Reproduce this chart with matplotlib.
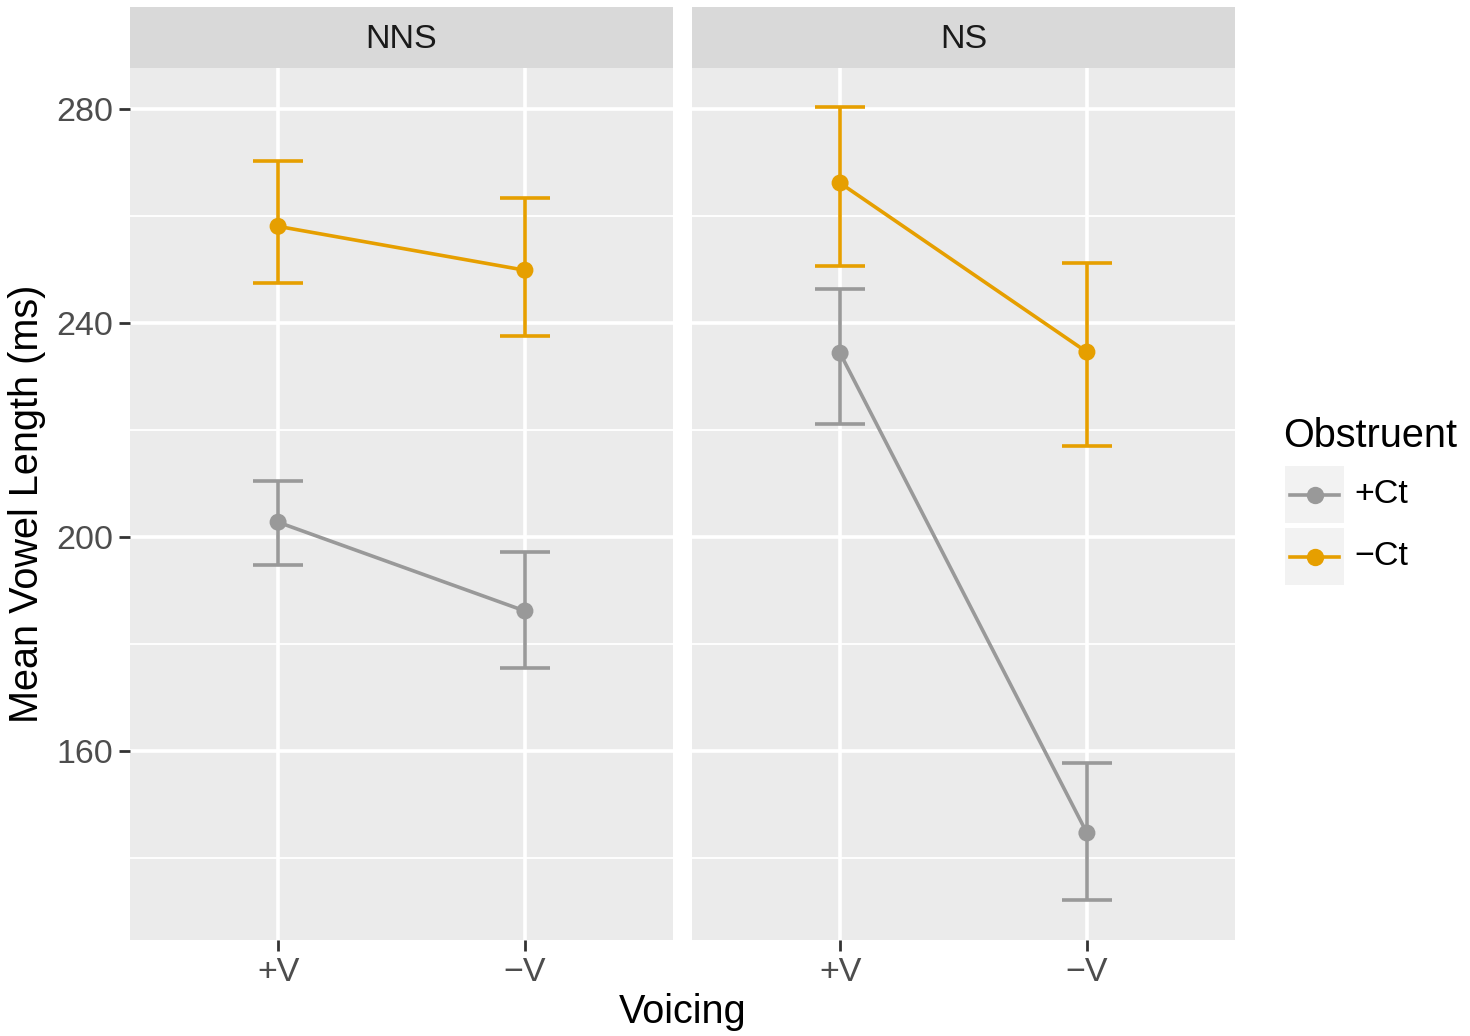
import matplotlib
matplotlib.use("Agg")
import matplotlib.pyplot as plt
from matplotlib.patches import Rectangle
from matplotlib.lines import Line2D
import numpy as np

plt.rcParams['font.family'] = ['Liberation Sans', 'DejaVu Sans']

# Data
panels = ["NNS", "NS"]
voicing = ["+V", "\u2212V"]
groups = ["+Ct", "\u2212Ct"]
colors = {"+Ct": "#999999", "\u2212Ct": "#E69F00"}

means = {
    ("NNS", "+Ct"): [202.8, 186.2],
    ("NNS", "\u2212Ct"): [258.1, 249.9],
    ("NS", "+Ct"): [234.4, 144.7],
    ("NS", "\u2212Ct"): [266.2, 234.6],
}
upper = {
    ("NNS", "+Ct"): [210.5, 197.2],
    ("NNS", "\u2212Ct"): [270.3, 263.4],
    ("NS", "+Ct"): [246.4, 157.8],
    ("NS", "\u2212Ct"): [280.4, 251.2],
}
lower = {
    ("NNS", "+Ct"): [194.8, 175.5],
    ("NNS", "\u2212Ct"): [247.5, 237.6],
    ("NS", "+Ct"): [221.1, 132.1],
    ("NS", "\u2212Ct"): [250.7, 217.0],
}
yticks = [160, 200, 240, 280]
yminor = [140, 180, 220, 260]

W, H = 1470, 1036
fig = plt.figure(figsize=(W / 100, H / 100), dpi=100)

def fx(px):
    return px / W

def fy(py):
    return 1 - py / H

panel_left = [130, 692]
panel_w = 543
top, bottom = 68, 940
strip_top = 7

tick_fs = 24.5
title_fs = 28.5

for i, p in enumerate(panels):
    ax = fig.add_axes([fx(panel_left[i]), fy(bottom), fx(panel_w), (bottom - top) / H])
    ax.set_facecolor("#EBEBEB")
    ax.set_xlim(0.4, 2.6)
    ax.set_ylim(124.7, 287.7)
    for s in ax.spines.values():
        s.set_visible(False)
    for y in yminor:
        ax.axhline(y, color="white", lw=1.3, zorder=0)
    for y in yticks:
        ax.axhline(y, color="white", lw=2.6, zorder=0)
    for x in [1, 2]:
        ax.axvline(x, color="white", lw=2.6, zorder=0)
    ax.set_xticks([1, 2])
    ax.set_xticklabels(voicing, fontsize=tick_fs, color="#4D4D4D")
    ax.set_yticks(yticks)
    if i == 0:
        ax.set_yticklabels([str(v) for v in yticks], fontsize=tick_fs, color="#4D4D4D")
        ax.tick_params(axis="y", length=8, width=2, color="#333333", pad=4)
    else:
        ax.tick_params(axis="y", length=0, labelleft=False)
    ax.tick_params(axis="x", length=8, width=2, color="#333333", pad=4)

    x = np.array([1, 2])
    for g in groups:
        m = means[(p, g)]
        u = upper[(p, g)]
        l = lower[(p, g)]
        c = colors[g]
        ax.plot(x, m, color=c, lw=2.6, zorder=3)
        ax.vlines(x, l, u, color=c, lw=2.6, zorder=3)
        for xi, ui, li in zip(x, u, l):
            ax.hlines([ui, li], xi - 0.1, xi + 0.1, color=c, lw=2.6, zorder=3)
        ax.scatter(x, m, s=150, color=c, zorder=4, edgecolors="none")

    # facet strip
    sax = fig.add_axes([fx(panel_left[i]), fy(top), fx(panel_w), (top - strip_top) / H])
    sax.set_facecolor("#D9D9D9")
    sax.set_xticks([]); sax.set_yticks([])
    for s in sax.spines.values():
        s.set_visible(False)
    sax.text(0.5, 0.47, p, ha="center", va="center", fontsize=tick_fs, color="#1A1A1A",
             transform=sax.transAxes)

fig.text(fx(683), fy(1012), "Voicing", ha="center", va="center", fontsize=title_fs)
fig.text(fx(27), fy(504), "Mean Vowel Length (ms)", ha="center", va="center",
         rotation=90, fontsize=title_fs)

# legend
fig.text(fx(1283), fy(436), "Obstruent", ha="left", va="center", fontsize=title_fs)
key_top = [466, 528]
for k, g in enumerate(groups):
    yt = key_top[k]
    fig.add_artist(Rectangle((fx(1285), fy(yt + 57)), fx(59), 57 / H,
                             transform=fig.transFigure, facecolor="#F2F2F2", edgecolor="none"))
    yc = fy(yt + 28.5)
    fig.add_artist(Line2D([fx(1290), fx(1339)], [yc, yc], transform=fig.transFigure,
                          color=colors[g], lw=2.6))
    fig.add_artist(Line2D([fx(1314.5)], [yc], transform=fig.transFigure, marker="o",
                          markersize=12.5, color=colors[g], markeredgewidth=0))
    fig.text(fx(1354), yc, g, ha="left", va="center", fontsize=tick_fs)

fig.savefig("out.png", dpi=100)
